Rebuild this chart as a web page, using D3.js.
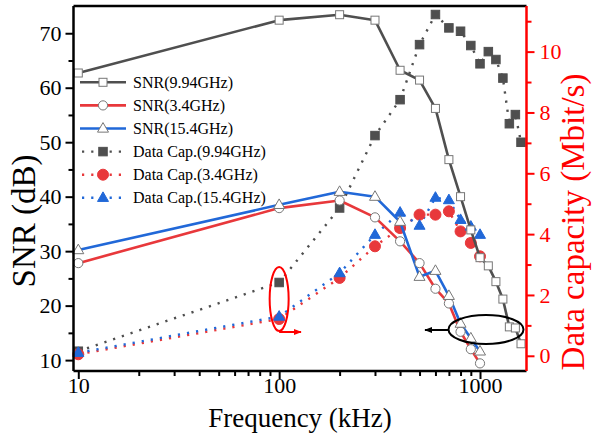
<!DOCTYPE html>
<html><head><meta charset="utf-8">
<script src="https://cdn.jsdelivr.net/npm/d3@7"></script>
<style>body{margin:0;background:#fff}svg{display:block}text{font-family:"Liberation Serif","Times New Roman",serif}</style>
</head><body><div id="chart"></div>
<script>
// ---- data ----
const freqSNR994 = [10,100,200,300,400,500,600,700,800,900,1000,1100,1200,1300,1400,1500,1600];
const snr994     = [62.7,72.4,73.4,72.4,63.2,61.4,56.2,46.8,40.0,33.9,28.8,27.3,24.4,21.2,16.1,15.9,13.0];
const cap994     = [0.15,2.41,4.86,7.24,8.42,10.23,11.22,10.78,10.67,10.2,9.6,10.0,9.74,9.13,7.63,7.93,7.02];

const freqSNR34 = [10,100,200,300,400,500,600,700,800,900,1000];
const snr34     = [27.8,37.9,39.3,36.2,31.8,27.8,23.1,20.4,15.2,12.0,9.4];
const cap34     = [0.05,1.21,2.56,3.6,4.2,4.64,4.64,4.75,4.09,3.71,3.27];

const snr154    = [30.2,38.5,40.9,40.0,35.4,25.3,26.4,21.8,16.7,14.0,11.6];
const cap154    = [0.1,1.29,2.72,3.98,4.71,4.28,5.2,5.12,4.47,4.25,3.98];

const leftTicks  = [10,20,30,40,50,60,70];
const rightTicks = [0,2,4,6,8,10];
const xTicks     = [10,100,1000];
const legendLabels = ["SNR(9.94GHz)","SNR(3.4GHz)","SNR(15.4GHz)","Data Cap.(9.94GHz)","Data Cap.(3.4GHz)","Data Cap.(15.4GHz)"];

const GRAY="#4f4f4f", RED="#e8383b", BLUE="#2168d8", AXRED="#ff0000";

const W=594,H=439;
const svg=d3.select("#chart").append("svg").attr("width",W).attr("height",H);
const L=73.5,R=526.5,T=6,B=371;
const x=d3.scaleLog().domain([9.465,1704]).range([L,R]);
const yL=d3.scaleLinear().domain([8,75]).range([B,T]);
const yR=d3.scaleLinear().domain([-0.5,11.5]).range([B,T]);

// dotted lines (data capacity)
function dotted(fr,vals,col){
  svg.append("path").datum(vals)
    .attr("d",d3.line().x((d,i)=>x(fr[i])).y(d=>yR(d)))
    .attr("fill","none").attr("stroke",col).attr("stroke-width",2.4)
    .attr("stroke-dasharray","2.2,7").attr("stroke-linecap","butt");
}
dotted(freqSNR994,cap994,GRAY);
dotted(freqSNR34,cap34,RED);
dotted(freqSNR34,cap154,BLUE);

// markers
function sq(g,cx,cy,s,fill,stroke){g.append("rect").attr("x",cx-s/2).attr("y",cy-s/2).attr("width",s).attr("height",s).attr("fill",fill).attr("stroke",stroke).attr("stroke-width",1);}
function tri(g,cx,cy,s,fill,stroke){const h=s*0.87;g.append("path").attr("d",`M${cx},${cy-h*0.62}L${cx+s/2},${cy+h*0.38}L${cx-s/2},${cy+h*0.38}Z`).attr("fill",fill).attr("stroke",stroke).attr("stroke-width",1);}
function circ(g,cx,cy,r,fill,stroke){g.append("circle").attr("cx",cx).attr("cy",cy).attr("r",r).attr("fill",fill).attr("stroke",stroke).attr("stroke-width",1);}

const gCap=svg.append("g");
cap994.forEach((d,i)=>sq(gCap,x(freqSNR994[i]),yR(d),8.5,GRAY,GRAY));
cap34.forEach((d,i)=>circ(gCap,x(freqSNR34[i]),yR(d),5.5,RED,RED));
cap154.forEach((d,i)=>tri(gCap,x(freqSNR34[i]),yR(d),11,BLUE,BLUE));

// SNR lines
function solid(fr,vals,col){
  svg.append("path").datum(vals)
    .attr("d",d3.line().x((d,i)=>x(fr[i])).y(d=>yL(d)))
    .attr("fill","none").attr("stroke",col).attr("stroke-width",2.6).attr("stroke-linejoin","round");
}
solid(freqSNR994,snr994,GRAY);
solid(freqSNR34,snr34,RED);
solid(freqSNR34,snr154,BLUE);
const gSnr=svg.append("g");
snr994.forEach((d,i)=>sq(gSnr,x(freqSNR994[i]),yL(d),8,"#fff","#777"));
snr34.forEach((d,i)=>circ(gSnr,x(freqSNR34[i]),yL(d),4.6,"#fff","#777"));
snr154.forEach((d,i)=>tri(gSnr,x(freqSNR34[i]),yL(d),11,"#fff","#777"));

// axes frame
svg.append("line").attr("x1",L).attr("x2",R).attr("y1",T).attr("y2",T).attr("stroke","#000").attr("stroke-width",2.5);
const ax=svg.append("g").attr("transform",`translate(0,${B})`)
  .call(d3.axisBottom(x).tickValues(xTicks).tickFormat(d3.format("d")).tickSize(8).tickPadding(4));
const minorX=[];[10,100].forEach(b=>{for(let k=2;k<=9;k++)minorX.push(b*k);});
svg.append("g").attr("transform",`translate(0,${B})`).call(d3.axisBottom(x).tickValues(minorX).tickSize(5).tickFormat(""))
  .call(g=>g.select(".domain").remove());
const ay=svg.append("g").attr("transform",`translate(${L},0)`)
  .call(d3.axisLeft(yL).tickValues(leftTicks).tickSize(8).tickPadding(4));
svg.append("g").attr("transform",`translate(${L},0)`).call(d3.axisLeft(yL).tickValues([15,25,35,45,55,65]).tickSize(5).tickFormat(""))
  .call(g=>g.select(".domain").remove());
const ar=svg.append("g").attr("transform",`translate(${R},0)`)
  .call(d3.axisRight(yR).tickValues(rightTicks).tickSize(8).tickPadding(5));
const arMinor=svg.append("g").attr("transform",`translate(${R},0)`).call(d3.axisRight(yR).tickValues([1,3,5,7,9,11]).tickSize(5).tickFormat(""))
  .call(g=>g.select(".domain").remove());
svg.selectAll(".domain").attr("stroke-width",2.5);
svg.selectAll(".tick line").attr("stroke-width",2);
[ax,ay].forEach(g=>g.selectAll("text").attr("font-size",22).attr("fill","#000"));
ax.selectAll("text").attr("y",6);
ax.selectAll(".domain").attr("d",`M${L},0H${R}`);
ay.selectAll(".domain").attr("d",`M0,${B}V${T}`);
ar.selectAll(".domain").attr("d",`M0,${B}V${T}`).attr("stroke",AXRED);
ar.selectAll("text").attr("font-size",22).attr("fill",AXRED);
ar.selectAll(".tick line").attr("stroke",AXRED);
arMinor.selectAll(".tick line").attr("stroke",AXRED);

// axis titles
svg.append("text").attr("x",300).attr("y",427).attr("text-anchor","middle").attr("font-size",27).text("Frequency (kHz)");
svg.append("text").attr("transform",`translate(35,221) rotate(-90)`).attr("text-anchor","middle").attr("font-size",33).text("SNR (dB)");
svg.append("text").attr("transform",`translate(584,222) rotate(-90)`).attr("text-anchor","middle").attr("font-size",33).attr("fill",AXRED).text("Data capacity (Mbit/s)");

// legend
const lg=svg.append("g");
const ly0=82.3, ldy=23.1;
const lcol=[GRAY,RED,BLUE,GRAY,RED,BLUE];
legendLabels.forEach((t,i)=>{
  const yy=ly0+i*ldy;
  if(i<3){
    lg.append("line").attr("x1",80).attr("x2",126).attr("y1",yy).attr("y2",yy).attr("stroke",lcol[i]).attr("stroke-width",2.6);
    if(i===0)sq(lg,103,yy,8,"#fff","#777");
    if(i===1)circ(lg,103,yy,4.6,"#fff","#777");
    if(i===2)tri(lg,103,yy,11,"#fff","#777");
  } else {
    lg.append("line").attr("x1",82).attr("x2",126).attr("y1",yy).attr("y2",yy).attr("stroke",lcol[i]).attr("stroke-width",2.4).attr("stroke-dasharray","2.2,7");
    if(i===3)sq(lg,103,yy,8.5,GRAY,GRAY);
    if(i===4)circ(lg,103,yy,5.5,RED,RED);
    if(i===5)tri(lg,103,yy,11,BLUE,BLUE);
  }
  lg.append("text").attr("x",133).attr("y",yy+5.5).attr("font-size",16).text(t);
});

// annotations
svg.append("defs").html(`<marker id="ar" viewBox="0 0 10 10" refX="9" refY="5" markerWidth="4" markerHeight="4" orient="auto"><path d="M0,1L10,5L0,9Z" fill="${AXRED}"/></marker>
<marker id="ab" viewBox="0 0 10 10" refX="9" refY="5" markerWidth="4" markerHeight="4" orient="auto"><path d="M0,1L10,5L0,9Z" fill="#000"/></marker>`);
svg.append("ellipse").attr("cx",x(100)).attr("cy",299).attr("rx",9.5).attr("ry",32).attr("fill","none").attr("stroke",AXRED).attr("stroke-width",2);
svg.append("line").attr("x1",x(100)).attr("x2",301).attr("y1",332).attr("y2",332).attr("stroke",AXRED).attr("stroke-width",2).attr("marker-end","url(#ar)");
svg.append("ellipse").attr("cx",486).attr("cy",329.5).attr("rx",37.5).attr("ry",14.5).attr("fill","none").attr("stroke","#000").attr("stroke-width",2);
svg.append("line").attr("x1",448.5).attr("x2",425).attr("y1",330).attr("y2",330).attr("stroke","#000").attr("stroke-width",2).attr("marker-end","url(#ab)");
</script></body></html>
